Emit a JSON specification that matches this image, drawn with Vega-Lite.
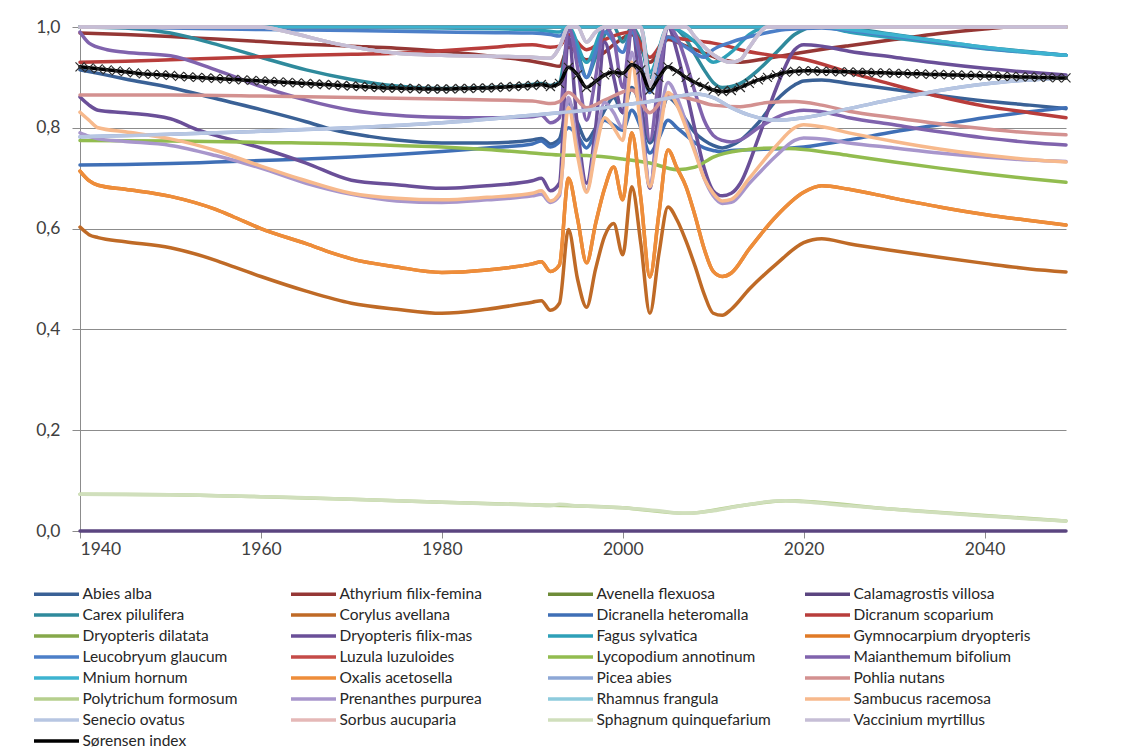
{
  "$schema": "https://vega.github.io/schema/vega-lite/v6.json",
  "width": 986,
  "height": 504,
  "autosize": {"type": "none"},
  "padding": {"left": 80, "top": 27, "right": 82, "bottom": 218},
  "background": "white",
  "config": {
    "view": {"stroke": null},
    "font": "Lato",
    "axis": {"labelFont": "Lato", "labelFontSize": 17.5, "labelColor": "#404040", "title": null, "domainColor": "#8c8c8c", "tickColor": "#8c8c8c"},
    "legend": {
      "orient": "none",
      "direction": "horizontal",
      "legendX": -48,
      "legendY": 555,
      "columns": 4,
      "gridAlign": "all",
      "padding": 0,
      "columnPadding": 24,
      "rowPadding": 0,
      "symbolType": "M-2.25,0L2.25,0",
      "symbolSize": 400,
      "symbolOffset": 12.5,
      "symbolStrokeWidth": 3.5,
      "labelOffset": 14,
      "labelFont": "Lato",
      "labelFontSize": 15.5,
      "labelColor": "#262626",
      "labelLimit": 400,
      "title": null
    }
  },
  "datasets": {
    "species": [
      {"species": "Abies alba", "year": 1940, "value": 0.915},
      {"species": "Abies alba", "year": 1942, "value": 0.908},
      {"species": "Abies alba", "year": 1945, "value": 0.897},
      {"species": "Abies alba", "year": 1950, "value": 0.88},
      {"species": "Abies alba", "year": 1955, "value": 0.858},
      {"species": "Abies alba", "year": 1960, "value": 0.836},
      {"species": "Abies alba", "year": 1965, "value": 0.812},
      {"species": "Abies alba", "year": 1968, "value": 0.796},
      {"species": "Abies alba", "year": 1972, "value": 0.783},
      {"species": "Abies alba", "year": 1975, "value": 0.776},
      {"species": "Abies alba", "year": 1980, "value": 0.77},
      {"species": "Abies alba", "year": 1985, "value": 0.77},
      {"species": "Abies alba", "year": 1990, "value": 0.776},
      {"species": "Abies alba", "year": 1991, "value": 0.779},
      {"species": "Abies alba", "year": 1992, "value": 0.768},
      {"species": "Abies alba", "year": 1993, "value": 0.778},
      {"species": "Abies alba", "year": 1994, "value": 0.85},
      {"species": "Abies alba", "year": 1995, "value": 0.81},
      {"species": "Abies alba", "year": 1996, "value": 0.775},
      {"species": "Abies alba", "year": 1997, "value": 0.8},
      {"species": "Abies alba", "year": 1998, "value": 0.835},
      {"species": "Abies alba", "year": 1999, "value": 0.86},
      {"species": "Abies alba", "year": 2000, "value": 0.83},
      {"species": "Abies alba", "year": 2001, "value": 0.88},
      {"species": "Abies alba", "year": 2002, "value": 0.84},
      {"species": "Abies alba", "year": 2003, "value": 0.77},
      {"species": "Abies alba", "year": 2004, "value": 0.81},
      {"species": "Abies alba", "year": 2005, "value": 0.86},
      {"species": "Abies alba", "year": 2006, "value": 0.845},
      {"species": "Abies alba", "year": 2007, "value": 0.815},
      {"species": "Abies alba", "year": 2008, "value": 0.79},
      {"species": "Abies alba", "year": 2009, "value": 0.775},
      {"species": "Abies alba", "year": 2010, "value": 0.765},
      {"species": "Abies alba", "year": 2011, "value": 0.76},
      {"species": "Abies alba", "year": 2012, "value": 0.765},
      {"species": "Abies alba", "year": 2013, "value": 0.775},
      {"species": "Abies alba", "year": 2015, "value": 0.81},
      {"species": "Abies alba", "year": 2017, "value": 0.855},
      {"species": "Abies alba", "year": 2019, "value": 0.885},
      {"species": "Abies alba", "year": 2020, "value": 0.893},
      {"species": "Abies alba", "year": 2022, "value": 0.895},
      {"species": "Abies alba", "year": 2025, "value": 0.888},
      {"species": "Abies alba", "year": 2030, "value": 0.876},
      {"species": "Abies alba", "year": 2035, "value": 0.864},
      {"species": "Abies alba", "year": 2040, "value": 0.853},
      {"species": "Abies alba", "year": 2045, "value": 0.845},
      {"species": "Abies alba", "year": 2049, "value": 0.838},

      {"species": "Athyrium filix-femina", "year": 1940, "value": 0.988},
      {"species": "Athyrium filix-femina", "year": 1945, "value": 0.985},
      {"species": "Athyrium filix-femina", "year": 1950, "value": 0.981},
      {"species": "Athyrium filix-femina", "year": 1955, "value": 0.976},
      {"species": "Athyrium filix-femina", "year": 1960, "value": 0.971},
      {"species": "Athyrium filix-femina", "year": 1965, "value": 0.966},
      {"species": "Athyrium filix-femina", "year": 1970, "value": 0.962},
      {"species": "Athyrium filix-femina", "year": 1975, "value": 0.958},
      {"species": "Athyrium filix-femina", "year": 1980, "value": 0.952},
      {"species": "Athyrium filix-femina", "year": 1985, "value": 0.943},
      {"species": "Athyrium filix-femina", "year": 1990, "value": 0.932},
      {"species": "Athyrium filix-femina", "year": 1992, "value": 0.925},
      {"species": "Athyrium filix-femina", "year": 1993, "value": 0.922},
      {"species": "Athyrium filix-femina", "year": 1994, "value": 0.96},
      {"species": "Athyrium filix-femina", "year": 1996, "value": 0.935},
      {"species": "Athyrium filix-femina", "year": 1998, "value": 0.95},
      {"species": "Athyrium filix-femina", "year": 1999, "value": 0.965},
      {"species": "Athyrium filix-femina", "year": 2001, "value": 0.985},
      {"species": "Athyrium filix-femina", "year": 2003, "value": 0.93},
      {"species": "Athyrium filix-femina", "year": 2005, "value": 0.975},
      {"species": "Athyrium filix-femina", "year": 2007, "value": 0.962},
      {"species": "Athyrium filix-femina", "year": 2009, "value": 0.948},
      {"species": "Athyrium filix-femina", "year": 2011, "value": 0.935},
      {"species": "Athyrium filix-femina", "year": 2013, "value": 0.93},
      {"species": "Athyrium filix-femina", "year": 2016, "value": 0.938},
      {"species": "Athyrium filix-femina", "year": 2020, "value": 0.95},
      {"species": "Athyrium filix-femina", "year": 2025, "value": 0.963},
      {"species": "Athyrium filix-femina", "year": 2030, "value": 0.975},
      {"species": "Athyrium filix-femina", "year": 2035, "value": 0.987},
      {"species": "Athyrium filix-femina", "year": 2040, "value": 0.996},
      {"species": "Athyrium filix-femina", "year": 2043, "value": 1.0},
      {"species": "Athyrium filix-femina", "year": 2049, "value": 1.0},

      {"species": "Avenella flexuosa", "year": 1940, "value": 1.0},
      {"species": "Avenella flexuosa", "year": 2049, "value": 1.0},

      {"species": "Calamagrostis villosa", "year": 1940, "value": 0.0},
      {"species": "Calamagrostis villosa", "year": 2049, "value": 0.0},

      {"species": "Carex pilulifera", "year": 1940, "value": 1.0},
      {"species": "Carex pilulifera", "year": 1945, "value": 0.998},
      {"species": "Carex pilulifera", "year": 1950, "value": 0.988},
      {"species": "Carex pilulifera", "year": 1955, "value": 0.966},
      {"species": "Carex pilulifera", "year": 1960, "value": 0.94},
      {"species": "Carex pilulifera", "year": 1965, "value": 0.915},
      {"species": "Carex pilulifera", "year": 1970, "value": 0.896},
      {"species": "Carex pilulifera", "year": 1975, "value": 0.883},
      {"species": "Carex pilulifera", "year": 1980, "value": 0.878},
      {"species": "Carex pilulifera", "year": 1985, "value": 0.88},
      {"species": "Carex pilulifera", "year": 1990, "value": 0.886},
      {"species": "Carex pilulifera", "year": 1991, "value": 0.888},
      {"species": "Carex pilulifera", "year": 1992, "value": 0.884},
      {"species": "Carex pilulifera", "year": 1993, "value": 0.89},
      {"species": "Carex pilulifera", "year": 1994, "value": 0.975},
      {"species": "Carex pilulifera", "year": 1995, "value": 0.95},
      {"species": "Carex pilulifera", "year": 1996, "value": 0.9},
      {"species": "Carex pilulifera", "year": 1997, "value": 0.94},
      {"species": "Carex pilulifera", "year": 1998, "value": 0.985},
      {"species": "Carex pilulifera", "year": 1999, "value": 1.0},
      {"species": "Carex pilulifera", "year": 2000, "value": 0.97},
      {"species": "Carex pilulifera", "year": 2001, "value": 1.0},
      {"species": "Carex pilulifera", "year": 2002, "value": 0.97},
      {"species": "Carex pilulifera", "year": 2003, "value": 0.9},
      {"species": "Carex pilulifera", "year": 2004, "value": 0.95},
      {"species": "Carex pilulifera", "year": 2005, "value": 1.0},
      {"species": "Carex pilulifera", "year": 2006, "value": 0.995},
      {"species": "Carex pilulifera", "year": 2007, "value": 0.975},
      {"species": "Carex pilulifera", "year": 2008, "value": 0.945},
      {"species": "Carex pilulifera", "year": 2009, "value": 0.915},
      {"species": "Carex pilulifera", "year": 2010, "value": 0.89},
      {"species": "Carex pilulifera", "year": 2011, "value": 0.88},
      {"species": "Carex pilulifera", "year": 2012, "value": 0.882},
      {"species": "Carex pilulifera", "year": 2013, "value": 0.888},
      {"species": "Carex pilulifera", "year": 2015, "value": 0.915},
      {"species": "Carex pilulifera", "year": 2017, "value": 0.95},
      {"species": "Carex pilulifera", "year": 2019, "value": 0.985},
      {"species": "Carex pilulifera", "year": 2020, "value": 0.995},
      {"species": "Carex pilulifera", "year": 2021, "value": 1.0},
      {"species": "Carex pilulifera", "year": 2023, "value": 1.0},
      {"species": "Carex pilulifera", "year": 2030, "value": 0.985},
      {"species": "Carex pilulifera", "year": 2035, "value": 0.972},
      {"species": "Carex pilulifera", "year": 2040, "value": 0.96},
      {"species": "Carex pilulifera", "year": 2045, "value": 0.951},
      {"species": "Carex pilulifera", "year": 2049, "value": 0.944},

      {"species": "Corylus avellana", "year": 1940, "value": 0.603},
      {"species": "Corylus avellana", "year": 1941, "value": 0.588},
      {"species": "Corylus avellana", "year": 1942, "value": 0.582},
      {"species": "Corylus avellana", "year": 1945, "value": 0.574},
      {"species": "Corylus avellana", "year": 1950, "value": 0.562},
      {"species": "Corylus avellana", "year": 1955, "value": 0.537},
      {"species": "Corylus avellana", "year": 1957, "value": 0.524},
      {"species": "Corylus avellana", "year": 1960, "value": 0.505},
      {"species": "Corylus avellana", "year": 1965, "value": 0.476},
      {"species": "Corylus avellana", "year": 1970, "value": 0.452},
      {"species": "Corylus avellana", "year": 1975, "value": 0.44},
      {"species": "Corylus avellana", "year": 1980, "value": 0.432},
      {"species": "Corylus avellana", "year": 1985, "value": 0.44},
      {"species": "Corylus avellana", "year": 1990, "value": 0.454},
      {"species": "Corylus avellana", "year": 1991, "value": 0.457},
      {"species": "Corylus avellana", "year": 1992, "value": 0.438},
      {"species": "Corylus avellana", "year": 1993, "value": 0.452},
      {"species": "Corylus avellana", "year": 1994, "value": 0.598},
      {"species": "Corylus avellana", "year": 1995, "value": 0.5},
      {"species": "Corylus avellana", "year": 1996, "value": 0.444},
      {"species": "Corylus avellana", "year": 1997, "value": 0.52},
      {"species": "Corylus avellana", "year": 1998, "value": 0.585},
      {"species": "Corylus avellana", "year": 1999, "value": 0.61},
      {"species": "Corylus avellana", "year": 2000, "value": 0.548},
      {"species": "Corylus avellana", "year": 2001, "value": 0.683},
      {"species": "Corylus avellana", "year": 2002, "value": 0.57},
      {"species": "Corylus avellana", "year": 2003, "value": 0.432},
      {"species": "Corylus avellana", "year": 2004, "value": 0.55},
      {"species": "Corylus avellana", "year": 2005, "value": 0.643},
      {"species": "Corylus avellana", "year": 2006, "value": 0.617},
      {"species": "Corylus avellana", "year": 2007, "value": 0.575},
      {"species": "Corylus avellana", "year": 2008, "value": 0.525},
      {"species": "Corylus avellana", "year": 2009, "value": 0.47},
      {"species": "Corylus avellana", "year": 2010, "value": 0.432},
      {"species": "Corylus avellana", "year": 2011, "value": 0.428},
      {"species": "Corylus avellana", "year": 2012, "value": 0.44},
      {"species": "Corylus avellana", "year": 2014, "value": 0.48},
      {"species": "Corylus avellana", "year": 2017, "value": 0.53},
      {"species": "Corylus avellana", "year": 2020, "value": 0.572},
      {"species": "Corylus avellana", "year": 2022, "value": 0.58},
      {"species": "Corylus avellana", "year": 2025, "value": 0.57},
      {"species": "Corylus avellana", "year": 2030, "value": 0.556},
      {"species": "Corylus avellana", "year": 2035, "value": 0.543},
      {"species": "Corylus avellana", "year": 2040, "value": 0.531},
      {"species": "Corylus avellana", "year": 2045, "value": 0.52},
      {"species": "Corylus avellana", "year": 2049, "value": 0.514},

      {"species": "Dicranella heteromalla", "year": 1940, "value": 0.726},
      {"species": "Dicranella heteromalla", "year": 1945, "value": 0.727},
      {"species": "Dicranella heteromalla", "year": 1950, "value": 0.729},
      {"species": "Dicranella heteromalla", "year": 1955, "value": 0.732},
      {"species": "Dicranella heteromalla", "year": 1960, "value": 0.735},
      {"species": "Dicranella heteromalla", "year": 1965, "value": 0.738},
      {"species": "Dicranella heteromalla", "year": 1970, "value": 0.742},
      {"species": "Dicranella heteromalla", "year": 1975, "value": 0.747},
      {"species": "Dicranella heteromalla", "year": 1980, "value": 0.753},
      {"species": "Dicranella heteromalla", "year": 1985, "value": 0.76},
      {"species": "Dicranella heteromalla", "year": 1990, "value": 0.768},
      {"species": "Dicranella heteromalla", "year": 1991, "value": 0.774},
      {"species": "Dicranella heteromalla", "year": 1992, "value": 0.762},
      {"species": "Dicranella heteromalla", "year": 1993, "value": 0.772},
      {"species": "Dicranella heteromalla", "year": 1994, "value": 0.8},
      {"species": "Dicranella heteromalla", "year": 1995, "value": 0.785},
      {"species": "Dicranella heteromalla", "year": 1996, "value": 0.76},
      {"species": "Dicranella heteromalla", "year": 1997, "value": 0.79},
      {"species": "Dicranella heteromalla", "year": 1998, "value": 0.815},
      {"species": "Dicranella heteromalla", "year": 1999, "value": 0.805},
      {"species": "Dicranella heteromalla", "year": 2000, "value": 0.795},
      {"species": "Dicranella heteromalla", "year": 2001, "value": 0.835},
      {"species": "Dicranella heteromalla", "year": 2002, "value": 0.8},
      {"species": "Dicranella heteromalla", "year": 2003, "value": 0.75},
      {"species": "Dicranella heteromalla", "year": 2004, "value": 0.78},
      {"species": "Dicranella heteromalla", "year": 2005, "value": 0.815},
      {"species": "Dicranella heteromalla", "year": 2006, "value": 0.8},
      {"species": "Dicranella heteromalla", "year": 2007, "value": 0.785},
      {"species": "Dicranella heteromalla", "year": 2008, "value": 0.77},
      {"species": "Dicranella heteromalla", "year": 2009, "value": 0.76},
      {"species": "Dicranella heteromalla", "year": 2010, "value": 0.755},
      {"species": "Dicranella heteromalla", "year": 2011, "value": 0.752},
      {"species": "Dicranella heteromalla", "year": 2012, "value": 0.755},
      {"species": "Dicranella heteromalla", "year": 2015, "value": 0.757},
      {"species": "Dicranella heteromalla", "year": 2020, "value": 0.762},
      {"species": "Dicranella heteromalla", "year": 2025, "value": 0.776},
      {"species": "Dicranella heteromalla", "year": 2030, "value": 0.792},
      {"species": "Dicranella heteromalla", "year": 2035, "value": 0.806},
      {"species": "Dicranella heteromalla", "year": 2040, "value": 0.82},
      {"species": "Dicranella heteromalla", "year": 2045, "value": 0.832},
      {"species": "Dicranella heteromalla", "year": 2049, "value": 0.84},

      {"species": "Dicranum scoparium", "year": 1940, "value": 0.93},
      {"species": "Dicranum scoparium", "year": 1945, "value": 0.932},
      {"species": "Dicranum scoparium", "year": 1950, "value": 0.935},
      {"species": "Dicranum scoparium", "year": 1955, "value": 0.938},
      {"species": "Dicranum scoparium", "year": 1960, "value": 0.941},
      {"species": "Dicranum scoparium", "year": 1965, "value": 0.944},
      {"species": "Dicranum scoparium", "year": 1970, "value": 0.946},
      {"species": "Dicranum scoparium", "year": 1975, "value": 0.948},
      {"species": "Dicranum scoparium", "year": 1980, "value": 0.953},
      {"species": "Dicranum scoparium", "year": 1985, "value": 0.959},
      {"species": "Dicranum scoparium", "year": 1990, "value": 0.965},
      {"species": "Dicranum scoparium", "year": 1992, "value": 0.96},
      {"species": "Dicranum scoparium", "year": 1993, "value": 0.962},
      {"species": "Dicranum scoparium", "year": 1994, "value": 0.985},
      {"species": "Dicranum scoparium", "year": 1996, "value": 0.955},
      {"species": "Dicranum scoparium", "year": 1998, "value": 0.975},
      {"species": "Dicranum scoparium", "year": 2001, "value": 0.99},
      {"species": "Dicranum scoparium", "year": 2003, "value": 0.94},
      {"species": "Dicranum scoparium", "year": 2005, "value": 0.98},
      {"species": "Dicranum scoparium", "year": 2007, "value": 0.975},
      {"species": "Dicranum scoparium", "year": 2010, "value": 0.968},
      {"species": "Dicranum scoparium", "year": 2012, "value": 0.96},
      {"species": "Dicranum scoparium", "year": 2013, "value": 0.955},
      {"species": "Dicranum scoparium", "year": 2016, "value": 0.945},
      {"species": "Dicranum scoparium", "year": 2020, "value": 0.936},
      {"species": "Dicranum scoparium", "year": 2025, "value": 0.91},
      {"species": "Dicranum scoparium", "year": 2030, "value": 0.885},
      {"species": "Dicranum scoparium", "year": 2035, "value": 0.862},
      {"species": "Dicranum scoparium", "year": 2040, "value": 0.843},
      {"species": "Dicranum scoparium", "year": 2045, "value": 0.83},
      {"species": "Dicranum scoparium", "year": 2049, "value": 0.82},

      {"species": "Dryopteris dilatata", "year": 1940, "value": 1.0},
      {"species": "Dryopteris dilatata", "year": 2049, "value": 1.0},

      {"species": "Dryopteris filix-mas", "year": 1940, "value": 0.861},
      {"species": "Dryopteris filix-mas", "year": 1941, "value": 0.845},
      {"species": "Dryopteris filix-mas", "year": 1942, "value": 0.835},
      {"species": "Dryopteris filix-mas", "year": 1945, "value": 0.83},
      {"species": "Dryopteris filix-mas", "year": 1950, "value": 0.818},
      {"species": "Dryopteris filix-mas", "year": 1953, "value": 0.796},
      {"species": "Dryopteris filix-mas", "year": 1955, "value": 0.785},
      {"species": "Dryopteris filix-mas", "year": 1960, "value": 0.76},
      {"species": "Dryopteris filix-mas", "year": 1965, "value": 0.73},
      {"species": "Dryopteris filix-mas", "year": 1970, "value": 0.696},
      {"species": "Dryopteris filix-mas", "year": 1975, "value": 0.687},
      {"species": "Dryopteris filix-mas", "year": 1980, "value": 0.68},
      {"species": "Dryopteris filix-mas", "year": 1985, "value": 0.685},
      {"species": "Dryopteris filix-mas", "year": 1990, "value": 0.695},
      {"species": "Dryopteris filix-mas", "year": 1991, "value": 0.7},
      {"species": "Dryopteris filix-mas", "year": 1992, "value": 0.675},
      {"species": "Dryopteris filix-mas", "year": 1993, "value": 0.69},
      {"species": "Dryopteris filix-mas", "year": 1994, "value": 0.98},
      {"species": "Dryopteris filix-mas", "year": 1995, "value": 0.8},
      {"species": "Dryopteris filix-mas", "year": 1996, "value": 0.69},
      {"species": "Dryopteris filix-mas", "year": 1997, "value": 0.8},
      {"species": "Dryopteris filix-mas", "year": 1998, "value": 0.97},
      {"species": "Dryopteris filix-mas", "year": 1999, "value": 0.9},
      {"species": "Dryopteris filix-mas", "year": 2000, "value": 0.83},
      {"species": "Dryopteris filix-mas", "year": 2001, "value": 1.0},
      {"species": "Dryopteris filix-mas", "year": 2002, "value": 0.85},
      {"species": "Dryopteris filix-mas", "year": 2003, "value": 0.68},
      {"species": "Dryopteris filix-mas", "year": 2004, "value": 0.85},
      {"species": "Dryopteris filix-mas", "year": 2005, "value": 1.0},
      {"species": "Dryopteris filix-mas", "year": 2006, "value": 0.95},
      {"species": "Dryopteris filix-mas", "year": 2007, "value": 0.875},
      {"species": "Dryopteris filix-mas", "year": 2008, "value": 0.795},
      {"species": "Dryopteris filix-mas", "year": 2009, "value": 0.72},
      {"species": "Dryopteris filix-mas", "year": 2010, "value": 0.675},
      {"species": "Dryopteris filix-mas", "year": 2011, "value": 0.665},
      {"species": "Dryopteris filix-mas", "year": 2012, "value": 0.67},
      {"species": "Dryopteris filix-mas", "year": 2013, "value": 0.69},
      {"species": "Dryopteris filix-mas", "year": 2015, "value": 0.78},
      {"species": "Dryopteris filix-mas", "year": 2017, "value": 0.88},
      {"species": "Dryopteris filix-mas", "year": 2019, "value": 0.955},
      {"species": "Dryopteris filix-mas", "year": 2020, "value": 0.965},
      {"species": "Dryopteris filix-mas", "year": 2022, "value": 0.962},
      {"species": "Dryopteris filix-mas", "year": 2025, "value": 0.952},
      {"species": "Dryopteris filix-mas", "year": 2030, "value": 0.94},
      {"species": "Dryopteris filix-mas", "year": 2035, "value": 0.928},
      {"species": "Dryopteris filix-mas", "year": 2040, "value": 0.918},
      {"species": "Dryopteris filix-mas", "year": 2045, "value": 0.91},
      {"species": "Dryopteris filix-mas", "year": 2049, "value": 0.905},

      {"species": "Fagus sylvatica", "year": 1940, "value": 1.0},
      {"species": "Fagus sylvatica", "year": 1960, "value": 1.0},
      {"species": "Fagus sylvatica", "year": 1980, "value": 0.998},
      {"species": "Fagus sylvatica", "year": 1990, "value": 0.995},
      {"species": "Fagus sylvatica", "year": 1993, "value": 0.99},
      {"species": "Fagus sylvatica", "year": 1994, "value": 1.0},
      {"species": "Fagus sylvatica", "year": 1996, "value": 0.93},
      {"species": "Fagus sylvatica", "year": 1998, "value": 1.0},
      {"species": "Fagus sylvatica", "year": 2002, "value": 1.0},
      {"species": "Fagus sylvatica", "year": 2003, "value": 0.91},
      {"species": "Fagus sylvatica", "year": 2005, "value": 1.0},
      {"species": "Fagus sylvatica", "year": 2008, "value": 0.97},
      {"species": "Fagus sylvatica", "year": 2010, "value": 0.93},
      {"species": "Fagus sylvatica", "year": 2012, "value": 0.95},
      {"species": "Fagus sylvatica", "year": 2014, "value": 0.985},
      {"species": "Fagus sylvatica", "year": 2016, "value": 1.0},
      {"species": "Fagus sylvatica", "year": 2022, "value": 1.0},
      {"species": "Fagus sylvatica", "year": 2025, "value": 0.99},
      {"species": "Fagus sylvatica", "year": 2030, "value": 0.978},
      {"species": "Fagus sylvatica", "year": 2035, "value": 0.967},
      {"species": "Fagus sylvatica", "year": 2040, "value": 0.957},
      {"species": "Fagus sylvatica", "year": 2045, "value": 0.949},
      {"species": "Fagus sylvatica", "year": 2049, "value": 0.944},

      {"species": "Gymnocarpium dryopteris", "year": 1940, "value": 0.714},
      {"species": "Gymnocarpium dryopteris", "year": 1941, "value": 0.695},
      {"species": "Gymnocarpium dryopteris", "year": 1942, "value": 0.686},
      {"species": "Gymnocarpium dryopteris", "year": 1945, "value": 0.678},
      {"species": "Gymnocarpium dryopteris", "year": 1950, "value": 0.664},
      {"species": "Gymnocarpium dryopteris", "year": 1955, "value": 0.638},
      {"species": "Gymnocarpium dryopteris", "year": 1957, "value": 0.623},
      {"species": "Gymnocarpium dryopteris", "year": 1960, "value": 0.6},
      {"species": "Gymnocarpium dryopteris", "year": 1965, "value": 0.57},
      {"species": "Gymnocarpium dryopteris", "year": 1968, "value": 0.551},
      {"species": "Gymnocarpium dryopteris", "year": 1970, "value": 0.54},
      {"species": "Gymnocarpium dryopteris", "year": 1975, "value": 0.524},
      {"species": "Gymnocarpium dryopteris", "year": 1980, "value": 0.513},
      {"species": "Gymnocarpium dryopteris", "year": 1985, "value": 0.518},
      {"species": "Gymnocarpium dryopteris", "year": 1990, "value": 0.53},
      {"species": "Gymnocarpium dryopteris", "year": 1991, "value": 0.534},
      {"species": "Gymnocarpium dryopteris", "year": 1992, "value": 0.515},
      {"species": "Gymnocarpium dryopteris", "year": 1993, "value": 0.528},
      {"species": "Gymnocarpium dryopteris", "year": 1994, "value": 0.7},
      {"species": "Gymnocarpium dryopteris", "year": 1995, "value": 0.62},
      {"species": "Gymnocarpium dryopteris", "year": 1996, "value": 0.532},
      {"species": "Gymnocarpium dryopteris", "year": 1997, "value": 0.61},
      {"species": "Gymnocarpium dryopteris", "year": 1998, "value": 0.68},
      {"species": "Gymnocarpium dryopteris", "year": 1999, "value": 0.722},
      {"species": "Gymnocarpium dryopteris", "year": 2000, "value": 0.657},
      {"species": "Gymnocarpium dryopteris", "year": 2001, "value": 0.79},
      {"species": "Gymnocarpium dryopteris", "year": 2002, "value": 0.66},
      {"species": "Gymnocarpium dryopteris", "year": 2003, "value": 0.504},
      {"species": "Gymnocarpium dryopteris", "year": 2004, "value": 0.63},
      {"species": "Gymnocarpium dryopteris", "year": 2005, "value": 0.756},
      {"species": "Gymnocarpium dryopteris", "year": 2006, "value": 0.72},
      {"species": "Gymnocarpium dryopteris", "year": 2007, "value": 0.683},
      {"species": "Gymnocarpium dryopteris", "year": 2008, "value": 0.625},
      {"species": "Gymnocarpium dryopteris", "year": 2009, "value": 0.56},
      {"species": "Gymnocarpium dryopteris", "year": 2010, "value": 0.515},
      {"species": "Gymnocarpium dryopteris", "year": 2011, "value": 0.505},
      {"species": "Gymnocarpium dryopteris", "year": 2012, "value": 0.512},
      {"species": "Gymnocarpium dryopteris", "year": 2014, "value": 0.56},
      {"species": "Gymnocarpium dryopteris", "year": 2017, "value": 0.625},
      {"species": "Gymnocarpium dryopteris", "year": 2020, "value": 0.672},
      {"species": "Gymnocarpium dryopteris", "year": 2022, "value": 0.685},
      {"species": "Gymnocarpium dryopteris", "year": 2025, "value": 0.678},
      {"species": "Gymnocarpium dryopteris", "year": 2030, "value": 0.66},
      {"species": "Gymnocarpium dryopteris", "year": 2035, "value": 0.643},
      {"species": "Gymnocarpium dryopteris", "year": 2040, "value": 0.628},
      {"species": "Gymnocarpium dryopteris", "year": 2045, "value": 0.616},
      {"species": "Gymnocarpium dryopteris", "year": 2049, "value": 0.607},

      {"species": "Leucobryum glaucum", "year": 1940, "value": 1.0},
      {"species": "Leucobryum glaucum", "year": 1950, "value": 0.998},
      {"species": "Leucobryum glaucum", "year": 1960, "value": 0.995},
      {"species": "Leucobryum glaucum", "year": 1970, "value": 0.993},
      {"species": "Leucobryum glaucum", "year": 1980, "value": 0.99},
      {"species": "Leucobryum glaucum", "year": 1990, "value": 0.988},
      {"species": "Leucobryum glaucum", "year": 1992, "value": 0.985},
      {"species": "Leucobryum glaucum", "year": 1993, "value": 0.982},
      {"species": "Leucobryum glaucum", "year": 1994, "value": 0.995},
      {"species": "Leucobryum glaucum", "year": 1996, "value": 0.9},
      {"species": "Leucobryum glaucum", "year": 1997, "value": 0.95},
      {"species": "Leucobryum glaucum", "year": 1998, "value": 0.99},
      {"species": "Leucobryum glaucum", "year": 2000, "value": 0.95},
      {"species": "Leucobryum glaucum", "year": 2001, "value": 0.99},
      {"species": "Leucobryum glaucum", "year": 2003, "value": 0.87},
      {"species": "Leucobryum glaucum", "year": 2005, "value": 0.98},
      {"species": "Leucobryum glaucum", "year": 2007, "value": 0.96},
      {"species": "Leucobryum glaucum", "year": 2009, "value": 0.94},
      {"species": "Leucobryum glaucum", "year": 2010, "value": 0.955},
      {"species": "Leucobryum glaucum", "year": 2012, "value": 0.97},
      {"species": "Leucobryum glaucum", "year": 2015, "value": 0.985},
      {"species": "Leucobryum glaucum", "year": 2018, "value": 0.995},
      {"species": "Leucobryum glaucum", "year": 2022, "value": 0.998},
      {"species": "Leucobryum glaucum", "year": 2025, "value": 0.993},
      {"species": "Leucobryum glaucum", "year": 2030, "value": 0.982},
      {"species": "Leucobryum glaucum", "year": 2035, "value": 0.97},
      {"species": "Leucobryum glaucum", "year": 2040, "value": 0.958},
      {"species": "Leucobryum glaucum", "year": 2045, "value": 0.95},
      {"species": "Leucobryum glaucum", "year": 2049, "value": 0.944},

      {"species": "Luzula luzuloides", "year": 1940, "value": 1.0},
      {"species": "Luzula luzuloides", "year": 2049, "value": 1.0},

      {"species": "Lycopodium annotinum", "year": 1940, "value": 0.775},
      {"species": "Lycopodium annotinum", "year": 1950, "value": 0.774},
      {"species": "Lycopodium annotinum", "year": 1960, "value": 0.771},
      {"species": "Lycopodium annotinum", "year": 1970, "value": 0.768},
      {"species": "Lycopodium annotinum", "year": 1975, "value": 0.765},
      {"species": "Lycopodium annotinum", "year": 1980, "value": 0.762},
      {"species": "Lycopodium annotinum", "year": 1985, "value": 0.757},
      {"species": "Lycopodium annotinum", "year": 1990, "value": 0.75},
      {"species": "Lycopodium annotinum", "year": 1993, "value": 0.746},
      {"species": "Lycopodium annotinum", "year": 1996, "value": 0.745},
      {"species": "Lycopodium annotinum", "year": 2000, "value": 0.738},
      {"species": "Lycopodium annotinum", "year": 2003, "value": 0.73},
      {"species": "Lycopodium annotinum", "year": 2006, "value": 0.717},
      {"species": "Lycopodium annotinum", "year": 2008, "value": 0.722},
      {"species": "Lycopodium annotinum", "year": 2010, "value": 0.742},
      {"species": "Lycopodium annotinum", "year": 2013, "value": 0.755},
      {"species": "Lycopodium annotinum", "year": 2017, "value": 0.76},
      {"species": "Lycopodium annotinum", "year": 2020, "value": 0.757},
      {"species": "Lycopodium annotinum", "year": 2025, "value": 0.745},
      {"species": "Lycopodium annotinum", "year": 2030, "value": 0.732},
      {"species": "Lycopodium annotinum", "year": 2035, "value": 0.72},
      {"species": "Lycopodium annotinum", "year": 2040, "value": 0.709},
      {"species": "Lycopodium annotinum", "year": 2045, "value": 0.699},
      {"species": "Lycopodium annotinum", "year": 2049, "value": 0.692},

      {"species": "Maianthemum bifolium", "year": 1940, "value": 0.99},
      {"species": "Maianthemum bifolium", "year": 1941, "value": 0.968},
      {"species": "Maianthemum bifolium", "year": 1943, "value": 0.955},
      {"species": "Maianthemum bifolium", "year": 1945, "value": 0.95},
      {"species": "Maianthemum bifolium", "year": 1950, "value": 0.943},
      {"species": "Maianthemum bifolium", "year": 1955, "value": 0.915},
      {"species": "Maianthemum bifolium", "year": 1960, "value": 0.882},
      {"species": "Maianthemum bifolium", "year": 1965, "value": 0.855},
      {"species": "Maianthemum bifolium", "year": 1970, "value": 0.835},
      {"species": "Maianthemum bifolium", "year": 1975, "value": 0.825},
      {"species": "Maianthemum bifolium", "year": 1980, "value": 0.821},
      {"species": "Maianthemum bifolium", "year": 1985, "value": 0.82},
      {"species": "Maianthemum bifolium", "year": 1990, "value": 0.822},
      {"species": "Maianthemum bifolium", "year": 1991, "value": 0.825},
      {"species": "Maianthemum bifolium", "year": 1992, "value": 0.81},
      {"species": "Maianthemum bifolium", "year": 1993, "value": 0.82},
      {"species": "Maianthemum bifolium", "year": 1994, "value": 1.0},
      {"species": "Maianthemum bifolium", "year": 1995, "value": 0.92},
      {"species": "Maianthemum bifolium", "year": 1996, "value": 0.815},
      {"species": "Maianthemum bifolium", "year": 1997, "value": 0.9},
      {"species": "Maianthemum bifolium", "year": 1998, "value": 1.0},
      {"species": "Maianthemum bifolium", "year": 1999, "value": 0.975},
      {"species": "Maianthemum bifolium", "year": 2000, "value": 0.88},
      {"species": "Maianthemum bifolium", "year": 2001, "value": 1.0},
      {"species": "Maianthemum bifolium", "year": 2002, "value": 0.93},
      {"species": "Maianthemum bifolium", "year": 2003, "value": 0.775},
      {"species": "Maianthemum bifolium", "year": 2004, "value": 0.9},
      {"species": "Maianthemum bifolium", "year": 2005, "value": 1.0},
      {"species": "Maianthemum bifolium", "year": 2006, "value": 0.98},
      {"species": "Maianthemum bifolium", "year": 2007, "value": 0.93},
      {"species": "Maianthemum bifolium", "year": 2008, "value": 0.87},
      {"species": "Maianthemum bifolium", "year": 2009, "value": 0.815},
      {"species": "Maianthemum bifolium", "year": 2010, "value": 0.785},
      {"species": "Maianthemum bifolium", "year": 2011, "value": 0.775},
      {"species": "Maianthemum bifolium", "year": 2012, "value": 0.772},
      {"species": "Maianthemum bifolium", "year": 2013, "value": 0.776},
      {"species": "Maianthemum bifolium", "year": 2015, "value": 0.8},
      {"species": "Maianthemum bifolium", "year": 2018, "value": 0.828},
      {"species": "Maianthemum bifolium", "year": 2020, "value": 0.835},
      {"species": "Maianthemum bifolium", "year": 2022, "value": 0.832},
      {"species": "Maianthemum bifolium", "year": 2025, "value": 0.82},
      {"species": "Maianthemum bifolium", "year": 2030, "value": 0.806},
      {"species": "Maianthemum bifolium", "year": 2035, "value": 0.792},
      {"species": "Maianthemum bifolium", "year": 2040, "value": 0.78},
      {"species": "Maianthemum bifolium", "year": 2045, "value": 0.771},
      {"species": "Maianthemum bifolium", "year": 2049, "value": 0.766},

      {"species": "Mnium hornum", "year": 1940, "value": 1.0},
      {"species": "Mnium hornum", "year": 2022, "value": 1.0},
      {"species": "Mnium hornum", "year": 2026, "value": 0.993},
      {"species": "Mnium hornum", "year": 2030, "value": 0.984},
      {"species": "Mnium hornum", "year": 2035, "value": 0.972},
      {"species": "Mnium hornum", "year": 2040, "value": 0.96},
      {"species": "Mnium hornum", "year": 2045, "value": 0.95},
      {"species": "Mnium hornum", "year": 2049, "value": 0.944},

      {"species": "Oxalis acetosella", "year": 1940, "value": 0.714},
      {"species": "Oxalis acetosella", "year": 1941, "value": 0.695},
      {"species": "Oxalis acetosella", "year": 1942, "value": 0.686},
      {"species": "Oxalis acetosella", "year": 1945, "value": 0.678},
      {"species": "Oxalis acetosella", "year": 1950, "value": 0.664},
      {"species": "Oxalis acetosella", "year": 1955, "value": 0.638},
      {"species": "Oxalis acetosella", "year": 1957, "value": 0.623},
      {"species": "Oxalis acetosella", "year": 1960, "value": 0.6},
      {"species": "Oxalis acetosella", "year": 1965, "value": 0.57},
      {"species": "Oxalis acetosella", "year": 1968, "value": 0.551},
      {"species": "Oxalis acetosella", "year": 1970, "value": 0.54},
      {"species": "Oxalis acetosella", "year": 1975, "value": 0.524},
      {"species": "Oxalis acetosella", "year": 1980, "value": 0.513},
      {"species": "Oxalis acetosella", "year": 1985, "value": 0.518},
      {"species": "Oxalis acetosella", "year": 1990, "value": 0.53},
      {"species": "Oxalis acetosella", "year": 1991, "value": 0.534},
      {"species": "Oxalis acetosella", "year": 1992, "value": 0.515},
      {"species": "Oxalis acetosella", "year": 1993, "value": 0.528},
      {"species": "Oxalis acetosella", "year": 1994, "value": 0.7},
      {"species": "Oxalis acetosella", "year": 1995, "value": 0.62},
      {"species": "Oxalis acetosella", "year": 1996, "value": 0.532},
      {"species": "Oxalis acetosella", "year": 1997, "value": 0.61},
      {"species": "Oxalis acetosella", "year": 1998, "value": 0.68},
      {"species": "Oxalis acetosella", "year": 1999, "value": 0.722},
      {"species": "Oxalis acetosella", "year": 2000, "value": 0.657},
      {"species": "Oxalis acetosella", "year": 2001, "value": 0.79},
      {"species": "Oxalis acetosella", "year": 2002, "value": 0.66},
      {"species": "Oxalis acetosella", "year": 2003, "value": 0.504},
      {"species": "Oxalis acetosella", "year": 2004, "value": 0.63},
      {"species": "Oxalis acetosella", "year": 2005, "value": 0.756},
      {"species": "Oxalis acetosella", "year": 2006, "value": 0.72},
      {"species": "Oxalis acetosella", "year": 2007, "value": 0.683},
      {"species": "Oxalis acetosella", "year": 2008, "value": 0.625},
      {"species": "Oxalis acetosella", "year": 2009, "value": 0.56},
      {"species": "Oxalis acetosella", "year": 2010, "value": 0.515},
      {"species": "Oxalis acetosella", "year": 2011, "value": 0.505},
      {"species": "Oxalis acetosella", "year": 2012, "value": 0.512},
      {"species": "Oxalis acetosella", "year": 2014, "value": 0.56},
      {"species": "Oxalis acetosella", "year": 2017, "value": 0.625},
      {"species": "Oxalis acetosella", "year": 2020, "value": 0.672},
      {"species": "Oxalis acetosella", "year": 2022, "value": 0.685},
      {"species": "Oxalis acetosella", "year": 2025, "value": 0.678},
      {"species": "Oxalis acetosella", "year": 2030, "value": 0.66},
      {"species": "Oxalis acetosella", "year": 2035, "value": 0.643},
      {"species": "Oxalis acetosella", "year": 2040, "value": 0.628},
      {"species": "Oxalis acetosella", "year": 2045, "value": 0.616},
      {"species": "Oxalis acetosella", "year": 2049, "value": 0.607},

      {"species": "Picea abies", "year": 1940, "value": 0.782},
      {"species": "Picea abies", "year": 1950, "value": 0.787},
      {"species": "Picea abies", "year": 1960, "value": 0.793},
      {"species": "Picea abies", "year": 1970, "value": 0.8},
      {"species": "Picea abies", "year": 1980, "value": 0.81},
      {"species": "Picea abies", "year": 1990, "value": 0.825},
      {"species": "Picea abies", "year": 1993, "value": 0.83},
      {"species": "Picea abies", "year": 1996, "value": 0.835},
      {"species": "Picea abies", "year": 2000, "value": 0.845},
      {"species": "Picea abies", "year": 2003, "value": 0.852},
      {"species": "Picea abies", "year": 2006, "value": 0.862},
      {"species": "Picea abies", "year": 2008, "value": 0.867},
      {"species": "Picea abies", "year": 2010, "value": 0.86},
      {"species": "Picea abies", "year": 2012, "value": 0.84},
      {"species": "Picea abies", "year": 2014, "value": 0.825},
      {"species": "Picea abies", "year": 2017, "value": 0.815},
      {"species": "Picea abies", "year": 2020, "value": 0.82},
      {"species": "Picea abies", "year": 2025, "value": 0.838},
      {"species": "Picea abies", "year": 2030, "value": 0.857},
      {"species": "Picea abies", "year": 2035, "value": 0.874},
      {"species": "Picea abies", "year": 2040, "value": 0.887},
      {"species": "Picea abies", "year": 2045, "value": 0.895},
      {"species": "Picea abies", "year": 2049, "value": 0.9},

      {"species": "Pohlia nutans", "year": 1940, "value": 0.865},
      {"species": "Pohlia nutans", "year": 1950, "value": 0.865},
      {"species": "Pohlia nutans", "year": 1960, "value": 0.863},
      {"species": "Pohlia nutans", "year": 1970, "value": 0.86},
      {"species": "Pohlia nutans", "year": 1980, "value": 0.857},
      {"species": "Pohlia nutans", "year": 1990, "value": 0.853},
      {"species": "Pohlia nutans", "year": 1992, "value": 0.848},
      {"species": "Pohlia nutans", "year": 1993, "value": 0.852},
      {"species": "Pohlia nutans", "year": 1994, "value": 0.87},
      {"species": "Pohlia nutans", "year": 1996, "value": 0.84},
      {"species": "Pohlia nutans", "year": 1998, "value": 0.855},
      {"species": "Pohlia nutans", "year": 2001, "value": 0.875},
      {"species": "Pohlia nutans", "year": 2003, "value": 0.83},
      {"species": "Pohlia nutans", "year": 2005, "value": 0.865},
      {"species": "Pohlia nutans", "year": 2008, "value": 0.855},
      {"species": "Pohlia nutans", "year": 2010, "value": 0.845},
      {"species": "Pohlia nutans", "year": 2013, "value": 0.842},
      {"species": "Pohlia nutans", "year": 2016, "value": 0.85},
      {"species": "Pohlia nutans", "year": 2019, "value": 0.852},
      {"species": "Pohlia nutans", "year": 2022, "value": 0.845},
      {"species": "Pohlia nutans", "year": 2025, "value": 0.833},
      {"species": "Pohlia nutans", "year": 2030, "value": 0.82},
      {"species": "Pohlia nutans", "year": 2035, "value": 0.808},
      {"species": "Pohlia nutans", "year": 2040, "value": 0.798},
      {"species": "Pohlia nutans", "year": 2045, "value": 0.79},
      {"species": "Pohlia nutans", "year": 2049, "value": 0.786},

      {"species": "Polytrichum formosum", "year": 1940, "value": 0.073},
      {"species": "Polytrichum formosum", "year": 1950, "value": 0.072},
      {"species": "Polytrichum formosum", "year": 1960, "value": 0.068},
      {"species": "Polytrichum formosum", "year": 1970, "value": 0.063},
      {"species": "Polytrichum formosum", "year": 1980, "value": 0.057},
      {"species": "Polytrichum formosum", "year": 1990, "value": 0.052},
      {"species": "Polytrichum formosum", "year": 2000, "value": 0.046},
      {"species": "Polytrichum formosum", "year": 2007, "value": 0.035},
      {"species": "Polytrichum formosum", "year": 2013, "value": 0.05},
      {"species": "Polytrichum formosum", "year": 2018, "value": 0.06},
      {"species": "Polytrichum formosum", "year": 2030, "value": 0.043},
      {"species": "Polytrichum formosum", "year": 2049, "value": 0.02},

      {"species": "Prenanthes purpurea", "year": 1940, "value": 0.79},
      {"species": "Prenanthes purpurea", "year": 1941, "value": 0.783},
      {"species": "Prenanthes purpurea", "year": 1942, "value": 0.778},
      {"species": "Prenanthes purpurea", "year": 1945, "value": 0.773},
      {"species": "Prenanthes purpurea", "year": 1950, "value": 0.765},
      {"species": "Prenanthes purpurea", "year": 1955, "value": 0.745},
      {"species": "Prenanthes purpurea", "year": 1960, "value": 0.72},
      {"species": "Prenanthes purpurea", "year": 1965, "value": 0.69},
      {"species": "Prenanthes purpurea", "year": 1970, "value": 0.668},
      {"species": "Prenanthes purpurea", "year": 1975, "value": 0.655},
      {"species": "Prenanthes purpurea", "year": 1980, "value": 0.652},
      {"species": "Prenanthes purpurea", "year": 1985, "value": 0.657},
      {"species": "Prenanthes purpurea", "year": 1990, "value": 0.665},
      {"species": "Prenanthes purpurea", "year": 1991, "value": 0.668},
      {"species": "Prenanthes purpurea", "year": 1992, "value": 0.652},
      {"species": "Prenanthes purpurea", "year": 1993, "value": 0.665},
      {"species": "Prenanthes purpurea", "year": 1994, "value": 0.86},
      {"species": "Prenanthes purpurea", "year": 1995, "value": 0.76},
      {"species": "Prenanthes purpurea", "year": 1996, "value": 0.675},
      {"species": "Prenanthes purpurea", "year": 1997, "value": 0.77},
      {"species": "Prenanthes purpurea", "year": 1998, "value": 0.85},
      {"species": "Prenanthes purpurea", "year": 1999, "value": 0.83},
      {"species": "Prenanthes purpurea", "year": 2000, "value": 0.8},
      {"species": "Prenanthes purpurea", "year": 2001, "value": 0.95},
      {"species": "Prenanthes purpurea", "year": 2002, "value": 0.82},
      {"species": "Prenanthes purpurea", "year": 2003, "value": 0.69},
      {"species": "Prenanthes purpurea", "year": 2004, "value": 0.8},
      {"species": "Prenanthes purpurea", "year": 2005, "value": 0.89},
      {"species": "Prenanthes purpurea", "year": 2006, "value": 0.86},
      {"species": "Prenanthes purpurea", "year": 2007, "value": 0.81},
      {"species": "Prenanthes purpurea", "year": 2008, "value": 0.755},
      {"species": "Prenanthes purpurea", "year": 2009, "value": 0.7},
      {"species": "Prenanthes purpurea", "year": 2010, "value": 0.665},
      {"species": "Prenanthes purpurea", "year": 2011, "value": 0.65},
      {"species": "Prenanthes purpurea", "year": 2012, "value": 0.652},
      {"species": "Prenanthes purpurea", "year": 2014, "value": 0.69},
      {"species": "Prenanthes purpurea", "year": 2017, "value": 0.745},
      {"species": "Prenanthes purpurea", "year": 2019, "value": 0.775},
      {"species": "Prenanthes purpurea", "year": 2020, "value": 0.78},
      {"species": "Prenanthes purpurea", "year": 2022, "value": 0.778},
      {"species": "Prenanthes purpurea", "year": 2025, "value": 0.77},
      {"species": "Prenanthes purpurea", "year": 2030, "value": 0.76},
      {"species": "Prenanthes purpurea", "year": 2035, "value": 0.75},
      {"species": "Prenanthes purpurea", "year": 2040, "value": 0.742},
      {"species": "Prenanthes purpurea", "year": 2045, "value": 0.736},
      {"species": "Prenanthes purpurea", "year": 2049, "value": 0.733},

      {"species": "Rhamnus frangula", "year": 1940, "value": 1.0},
      {"species": "Rhamnus frangula", "year": 1960, "value": 1.0},
      {"species": "Rhamnus frangula", "year": 1963, "value": 0.99},
      {"species": "Rhamnus frangula", "year": 1968, "value": 0.968},
      {"species": "Rhamnus frangula", "year": 1975, "value": 0.948},
      {"species": "Rhamnus frangula", "year": 1980, "value": 0.944},
      {"species": "Rhamnus frangula", "year": 1985, "value": 0.942},
      {"species": "Rhamnus frangula", "year": 1990, "value": 0.94},
      {"species": "Rhamnus frangula", "year": 1992, "value": 0.938},
      {"species": "Rhamnus frangula", "year": 1993, "value": 0.96},
      {"species": "Rhamnus frangula", "year": 1994, "value": 1.0},
      {"species": "Rhamnus frangula", "year": 1995, "value": 1.0},
      {"species": "Rhamnus frangula", "year": 1996, "value": 0.97},
      {"species": "Rhamnus frangula", "year": 1997, "value": 0.99},
      {"species": "Rhamnus frangula", "year": 1998, "value": 1.0},
      {"species": "Rhamnus frangula", "year": 2002, "value": 1.0},
      {"species": "Rhamnus frangula", "year": 2003, "value": 0.885},
      {"species": "Rhamnus frangula", "year": 2004, "value": 0.95},
      {"species": "Rhamnus frangula", "year": 2005, "value": 1.0},
      {"species": "Rhamnus frangula", "year": 2007, "value": 1.0},
      {"species": "Rhamnus frangula", "year": 2008, "value": 0.98},
      {"species": "Rhamnus frangula", "year": 2010, "value": 0.945},
      {"species": "Rhamnus frangula", "year": 2012, "value": 0.93},
      {"species": "Rhamnus frangula", "year": 2013, "value": 0.935},
      {"species": "Rhamnus frangula", "year": 2014, "value": 0.96},
      {"species": "Rhamnus frangula", "year": 2016, "value": 1.0},
      {"species": "Rhamnus frangula", "year": 2049, "value": 1.0},

      {"species": "Sambucus racemosa", "year": 1940, "value": 0.831},
      {"species": "Sambucus racemosa", "year": 1941, "value": 0.815},
      {"species": "Sambucus racemosa", "year": 1942, "value": 0.8},
      {"species": "Sambucus racemosa", "year": 1945, "value": 0.792},
      {"species": "Sambucus racemosa", "year": 1950, "value": 0.778},
      {"species": "Sambucus racemosa", "year": 1955, "value": 0.755},
      {"species": "Sambucus racemosa", "year": 1960, "value": 0.724},
      {"species": "Sambucus racemosa", "year": 1965, "value": 0.695},
      {"species": "Sambucus racemosa", "year": 1970, "value": 0.67},
      {"species": "Sambucus racemosa", "year": 1975, "value": 0.66},
      {"species": "Sambucus racemosa", "year": 1980, "value": 0.657},
      {"species": "Sambucus racemosa", "year": 1985, "value": 0.662},
      {"species": "Sambucus racemosa", "year": 1990, "value": 0.67},
      {"species": "Sambucus racemosa", "year": 1991, "value": 0.675},
      {"species": "Sambucus racemosa", "year": 1992, "value": 0.655},
      {"species": "Sambucus racemosa", "year": 1993, "value": 0.67},
      {"species": "Sambucus racemosa", "year": 1994, "value": 0.84},
      {"species": "Sambucus racemosa", "year": 1995, "value": 0.745},
      {"species": "Sambucus racemosa", "year": 1996, "value": 0.672},
      {"species": "Sambucus racemosa", "year": 1997, "value": 0.755},
      {"species": "Sambucus racemosa", "year": 1998, "value": 0.82},
      {"species": "Sambucus racemosa", "year": 1999, "value": 0.8},
      {"species": "Sambucus racemosa", "year": 2000, "value": 0.775},
      {"species": "Sambucus racemosa", "year": 2001, "value": 0.93},
      {"species": "Sambucus racemosa", "year": 2002, "value": 0.8},
      {"species": "Sambucus racemosa", "year": 2003, "value": 0.683},
      {"species": "Sambucus racemosa", "year": 2004, "value": 0.78},
      {"species": "Sambucus racemosa", "year": 2005, "value": 0.87},
      {"species": "Sambucus racemosa", "year": 2006, "value": 0.845},
      {"species": "Sambucus racemosa", "year": 2007, "value": 0.8},
      {"species": "Sambucus racemosa", "year": 2008, "value": 0.75},
      {"species": "Sambucus racemosa", "year": 2009, "value": 0.7},
      {"species": "Sambucus racemosa", "year": 2010, "value": 0.67},
      {"species": "Sambucus racemosa", "year": 2011, "value": 0.655},
      {"species": "Sambucus racemosa", "year": 2012, "value": 0.658},
      {"species": "Sambucus racemosa", "year": 2014, "value": 0.7},
      {"species": "Sambucus racemosa", "year": 2017, "value": 0.765},
      {"species": "Sambucus racemosa", "year": 2019, "value": 0.8},
      {"species": "Sambucus racemosa", "year": 2020, "value": 0.806},
      {"species": "Sambucus racemosa", "year": 2022, "value": 0.802},
      {"species": "Sambucus racemosa", "year": 2025, "value": 0.79},
      {"species": "Sambucus racemosa", "year": 2030, "value": 0.773},
      {"species": "Sambucus racemosa", "year": 2035, "value": 0.758},
      {"species": "Sambucus racemosa", "year": 2040, "value": 0.746},
      {"species": "Sambucus racemosa", "year": 2045, "value": 0.737},
      {"species": "Sambucus racemosa", "year": 2049, "value": 0.732},

      {"species": "Senecio ovatus", "year": 1940, "value": 0.782},
      {"species": "Senecio ovatus", "year": 1945, "value": 0.784},
      {"species": "Senecio ovatus", "year": 1950, "value": 0.787},
      {"species": "Senecio ovatus", "year": 1955, "value": 0.79},
      {"species": "Senecio ovatus", "year": 1960, "value": 0.793},
      {"species": "Senecio ovatus", "year": 1965, "value": 0.797},
      {"species": "Senecio ovatus", "year": 1970, "value": 0.8},
      {"species": "Senecio ovatus", "year": 1975, "value": 0.805},
      {"species": "Senecio ovatus", "year": 1980, "value": 0.81},
      {"species": "Senecio ovatus", "year": 1985, "value": 0.817},
      {"species": "Senecio ovatus", "year": 1990, "value": 0.825},
      {"species": "Senecio ovatus", "year": 1993, "value": 0.83},
      {"species": "Senecio ovatus", "year": 1996, "value": 0.835},
      {"species": "Senecio ovatus", "year": 2000, "value": 0.845},
      {"species": "Senecio ovatus", "year": 2003, "value": 0.852},
      {"species": "Senecio ovatus", "year": 2006, "value": 0.862},
      {"species": "Senecio ovatus", "year": 2008, "value": 0.867},
      {"species": "Senecio ovatus", "year": 2010, "value": 0.86},
      {"species": "Senecio ovatus", "year": 2012, "value": 0.84},
      {"species": "Senecio ovatus", "year": 2014, "value": 0.825},
      {"species": "Senecio ovatus", "year": 2017, "value": 0.815},
      {"species": "Senecio ovatus", "year": 2020, "value": 0.82},
      {"species": "Senecio ovatus", "year": 2025, "value": 0.838},
      {"species": "Senecio ovatus", "year": 2030, "value": 0.857},
      {"species": "Senecio ovatus", "year": 2035, "value": 0.874},
      {"species": "Senecio ovatus", "year": 2040, "value": 0.887},
      {"species": "Senecio ovatus", "year": 2045, "value": 0.895},
      {"species": "Senecio ovatus", "year": 2049, "value": 0.9},

      {"species": "Sorbus aucuparia", "year": 1940, "value": 1.0},
      {"species": "Sorbus aucuparia", "year": 1960, "value": 1.0},
      {"species": "Sorbus aucuparia", "year": 1963, "value": 0.99},
      {"species": "Sorbus aucuparia", "year": 1968, "value": 0.968},
      {"species": "Sorbus aucuparia", "year": 1975, "value": 0.948},
      {"species": "Sorbus aucuparia", "year": 1980, "value": 0.944},
      {"species": "Sorbus aucuparia", "year": 1985, "value": 0.942},
      {"species": "Sorbus aucuparia", "year": 1990, "value": 0.94},
      {"species": "Sorbus aucuparia", "year": 1992, "value": 0.938},
      {"species": "Sorbus aucuparia", "year": 1993, "value": 0.96},
      {"species": "Sorbus aucuparia", "year": 1994, "value": 1.0},
      {"species": "Sorbus aucuparia", "year": 1995, "value": 1.0},
      {"species": "Sorbus aucuparia", "year": 1996, "value": 0.97},
      {"species": "Sorbus aucuparia", "year": 1997, "value": 0.99},
      {"species": "Sorbus aucuparia", "year": 1998, "value": 1.0},
      {"species": "Sorbus aucuparia", "year": 2002, "value": 1.0},
      {"species": "Sorbus aucuparia", "year": 2003, "value": 0.885},
      {"species": "Sorbus aucuparia", "year": 2004, "value": 0.95},
      {"species": "Sorbus aucuparia", "year": 2005, "value": 1.0},
      {"species": "Sorbus aucuparia", "year": 2007, "value": 1.0},
      {"species": "Sorbus aucuparia", "year": 2008, "value": 0.98},
      {"species": "Sorbus aucuparia", "year": 2010, "value": 0.945},
      {"species": "Sorbus aucuparia", "year": 2012, "value": 0.93},
      {"species": "Sorbus aucuparia", "year": 2013, "value": 0.935},
      {"species": "Sorbus aucuparia", "year": 2014, "value": 0.96},
      {"species": "Sorbus aucuparia", "year": 2016, "value": 1.0},
      {"species": "Sorbus aucuparia", "year": 2049, "value": 1.0},

      {"species": "Sphagnum quinquefarium", "year": 1940, "value": 0.073},
      {"species": "Sphagnum quinquefarium", "year": 1945, "value": 0.073},
      {"species": "Sphagnum quinquefarium", "year": 1950, "value": 0.072},
      {"species": "Sphagnum quinquefarium", "year": 1955, "value": 0.07},
      {"species": "Sphagnum quinquefarium", "year": 1960, "value": 0.068},
      {"species": "Sphagnum quinquefarium", "year": 1965, "value": 0.066},
      {"species": "Sphagnum quinquefarium", "year": 1970, "value": 0.063},
      {"species": "Sphagnum quinquefarium", "year": 1975, "value": 0.06},
      {"species": "Sphagnum quinquefarium", "year": 1980, "value": 0.057},
      {"species": "Sphagnum quinquefarium", "year": 1985, "value": 0.054},
      {"species": "Sphagnum quinquefarium", "year": 1990, "value": 0.052},
      {"species": "Sphagnum quinquefarium", "year": 1992, "value": 0.05},
      {"species": "Sphagnum quinquefarium", "year": 1993, "value": 0.053},
      {"species": "Sphagnum quinquefarium", "year": 1995, "value": 0.05},
      {"species": "Sphagnum quinquefarium", "year": 2000, "value": 0.046},
      {"species": "Sphagnum quinquefarium", "year": 2004, "value": 0.04},
      {"species": "Sphagnum quinquefarium", "year": 2007, "value": 0.035},
      {"species": "Sphagnum quinquefarium", "year": 2010, "value": 0.04},
      {"species": "Sphagnum quinquefarium", "year": 2013, "value": 0.05},
      {"species": "Sphagnum quinquefarium", "year": 2016, "value": 0.058},
      {"species": "Sphagnum quinquefarium", "year": 2018, "value": 0.06},
      {"species": "Sphagnum quinquefarium", "year": 2020, "value": 0.058},
      {"species": "Sphagnum quinquefarium", "year": 2025, "value": 0.05},
      {"species": "Sphagnum quinquefarium", "year": 2030, "value": 0.043},
      {"species": "Sphagnum quinquefarium", "year": 2035, "value": 0.036},
      {"species": "Sphagnum quinquefarium", "year": 2040, "value": 0.03},
      {"species": "Sphagnum quinquefarium", "year": 2045, "value": 0.024},
      {"species": "Sphagnum quinquefarium", "year": 2049, "value": 0.02},

      {"species": "Vaccinium myrtillus", "year": 1940, "value": 1.0},
      {"species": "Vaccinium myrtillus", "year": 1960, "value": 1.0},
      {"species": "Vaccinium myrtillus", "year": 1963, "value": 0.99},
      {"species": "Vaccinium myrtillus", "year": 1968, "value": 0.968},
      {"species": "Vaccinium myrtillus", "year": 1975, "value": 0.948},
      {"species": "Vaccinium myrtillus", "year": 1980, "value": 0.944},
      {"species": "Vaccinium myrtillus", "year": 1985, "value": 0.942},
      {"species": "Vaccinium myrtillus", "year": 1990, "value": 0.94},
      {"species": "Vaccinium myrtillus", "year": 1992, "value": 0.938},
      {"species": "Vaccinium myrtillus", "year": 1993, "value": 0.96},
      {"species": "Vaccinium myrtillus", "year": 1994, "value": 1.0},
      {"species": "Vaccinium myrtillus", "year": 1995, "value": 1.0},
      {"species": "Vaccinium myrtillus", "year": 1996, "value": 0.97},
      {"species": "Vaccinium myrtillus", "year": 1997, "value": 0.99},
      {"species": "Vaccinium myrtillus", "year": 1998, "value": 1.0},
      {"species": "Vaccinium myrtillus", "year": 2002, "value": 1.0},
      {"species": "Vaccinium myrtillus", "year": 2003, "value": 0.885},
      {"species": "Vaccinium myrtillus", "year": 2004, "value": 0.95},
      {"species": "Vaccinium myrtillus", "year": 2005, "value": 1.0},
      {"species": "Vaccinium myrtillus", "year": 2007, "value": 1.0},
      {"species": "Vaccinium myrtillus", "year": 2008, "value": 0.98},
      {"species": "Vaccinium myrtillus", "year": 2010, "value": 0.945},
      {"species": "Vaccinium myrtillus", "year": 2012, "value": 0.93},
      {"species": "Vaccinium myrtillus", "year": 2013, "value": 0.935},
      {"species": "Vaccinium myrtillus", "year": 2014, "value": 0.96},
      {"species": "Vaccinium myrtillus", "year": 2016, "value": 1.0},
      {"species": "Vaccinium myrtillus", "year": 2049, "value": 1.0}
    ],
    "index": [
      {"year": 1940, "value": 0.921}, {"year": 1941, "value": 0.919}, {"year": 1942, "value": 0.917}, {"year": 1943, "value": 0.915},
      {"year": 1944, "value": 0.913}, {"year": 1945, "value": 0.911}, {"year": 1946, "value": 0.909}, {"year": 1947, "value": 0.907},
      {"year": 1948, "value": 0.906}, {"year": 1949, "value": 0.905}, {"year": 1950, "value": 0.904}, {"year": 1951, "value": 0.902},
      {"year": 1952, "value": 0.901}, {"year": 1953, "value": 0.9}, {"year": 1954, "value": 0.899}, {"year": 1955, "value": 0.898},
      {"year": 1956, "value": 0.897}, {"year": 1957, "value": 0.896}, {"year": 1958, "value": 0.895}, {"year": 1959, "value": 0.894},
      {"year": 1960, "value": 0.893}, {"year": 1961, "value": 0.892}, {"year": 1962, "value": 0.891}, {"year": 1963, "value": 0.89},
      {"year": 1964, "value": 0.889}, {"year": 1965, "value": 0.888}, {"year": 1966, "value": 0.887}, {"year": 1967, "value": 0.886},
      {"year": 1968, "value": 0.885}, {"year": 1969, "value": 0.884}, {"year": 1970, "value": 0.883}, {"year": 1971, "value": 0.882},
      {"year": 1972, "value": 0.881}, {"year": 1973, "value": 0.88}, {"year": 1974, "value": 0.879}, {"year": 1975, "value": 0.879},
      {"year": 1976, "value": 0.878}, {"year": 1977, "value": 0.878}, {"year": 1978, "value": 0.877}, {"year": 1979, "value": 0.877},
      {"year": 1980, "value": 0.877}, {"year": 1981, "value": 0.877}, {"year": 1982, "value": 0.878}, {"year": 1983, "value": 0.878},
      {"year": 1984, "value": 0.879}, {"year": 1985, "value": 0.879}, {"year": 1986, "value": 0.88}, {"year": 1987, "value": 0.881},
      {"year": 1988, "value": 0.882}, {"year": 1989, "value": 0.883}, {"year": 1990, "value": 0.884}, {"year": 1991, "value": 0.886},
      {"year": 1992, "value": 0.882}, {"year": 1993, "value": 0.888}, {"year": 1994, "value": 0.92}, {"year": 1995, "value": 0.905},
      {"year": 1996, "value": 0.88}, {"year": 1997, "value": 0.892}, {"year": 1998, "value": 0.905}, {"year": 1999, "value": 0.91},
      {"year": 2000, "value": 0.908}, {"year": 2001, "value": 0.925}, {"year": 2002, "value": 0.915}, {"year": 2003, "value": 0.875},
      {"year": 2004, "value": 0.9}, {"year": 2005, "value": 0.921}, {"year": 2006, "value": 0.912}, {"year": 2007, "value": 0.9},
      {"year": 2008, "value": 0.89}, {"year": 2009, "value": 0.882}, {"year": 2010, "value": 0.875}, {"year": 2011, "value": 0.872},
      {"year": 2012, "value": 0.874}, {"year": 2013, "value": 0.88}, {"year": 2014, "value": 0.888}, {"year": 2015, "value": 0.895},
      {"year": 2016, "value": 0.9}, {"year": 2017, "value": 0.905}, {"year": 2018, "value": 0.91}, {"year": 2019, "value": 0.912},
      {"year": 2020, "value": 0.913}, {"year": 2021, "value": 0.913}, {"year": 2022, "value": 0.912}, {"year": 2023, "value": 0.912},
      {"year": 2024, "value": 0.911}, {"year": 2025, "value": 0.911}, {"year": 2026, "value": 0.91}, {"year": 2027, "value": 0.91},
      {"year": 2028, "value": 0.909}, {"year": 2029, "value": 0.909}, {"year": 2030, "value": 0.908}, {"year": 2031, "value": 0.908},
      {"year": 2032, "value": 0.907}, {"year": 2033, "value": 0.907}, {"year": 2034, "value": 0.906}, {"year": 2035, "value": 0.906},
      {"year": 2036, "value": 0.905}, {"year": 2037, "value": 0.905}, {"year": 2038, "value": 0.904}, {"year": 2039, "value": 0.904},
      {"year": 2040, "value": 0.903}, {"year": 2041, "value": 0.903}, {"year": 2042, "value": 0.902}, {"year": 2043, "value": 0.902},
      {"year": 2044, "value": 0.901}, {"year": 2045, "value": 0.901}, {"year": 2046, "value": 0.9}, {"year": 2047, "value": 0.9},
      {"year": 2048, "value": 0.899}, {"year": 2049, "value": 0.899}
    ]
  },
  "layer": [
    {
      "data": {"name": "species"},
      "mark": {"type": "line", "interpolate": "monotone", "strokeWidth": 3.5, "strokeCap": "round", "strokeJoin": "round"},
      "encoding": {
        "x": {
          "field": "year", "type": "quantitative",
          "scale": {"domain": [1940, 2049], "nice": false, "zero": false},
          "axis": {"values": [1940, 1960, 1980, 2000, 2020, 2040], "format": "d", "grid": false, "tickSize": 7, "labelPadding": 2, "domain": true}
        },
        "y": {
          "field": "value", "type": "quantitative",
          "scale": {"domain": [0, 1], "nice": false},
          "axis": {"values": [0, 0.2, 0.4, 0.6, 0.8, 1.0], "labelExpr": "replace(format(datum.value, '.1f'), '.', ',')", "grid": true, "gridColor": "#8c8c8c", "gridWidth": 1, "tickSize": 8, "labelPadding": 12}
        },
        "color": {
          "field": "species", "type": "nominal",
          "scale": {
            "domain": ["Abies alba", "Athyrium filix-femina", "Avenella flexuosa", "Calamagrostis villosa", "Carex pilulifera", "Corylus avellana", "Dicranella heteromalla", "Dicranum scoparium", "Dryopteris dilatata", "Dryopteris filix-mas", "Fagus sylvatica", "Gymnocarpium dryopteris", "Leucobryum glaucum", "Luzula luzuloides", "Lycopodium annotinum", "Maianthemum bifolium", "Mnium hornum", "Oxalis acetosella", "Picea abies", "Pohlia nutans", "Polytrichum formosum", "Prenanthes purpurea", "Rhamnus frangula", "Sambucus racemosa", "Senecio ovatus", "Sorbus aucuparia", "Sphagnum quinquefarium", "Vaccinium myrtillus", "Sørensen index"],
            "range": ["#3A6196", "#953735", "#6E8C38", "#5B4580", "#2F8A9C", "#BF6A26", "#3F6FB6", "#B83D3B", "#86A84A", "#6A4F98", "#2EA0B8", "#E07A26", "#4C7FC8", "#C54B48", "#92BC4F", "#8063AD", "#3DB3D0", "#EE8D3A", "#8DA7D6", "#D39190", "#B6CF8E", "#A896CC", "#8ECBDD", "#F7B98C", "#B7C6E2", "#E5B8B7", "#D0DFBC", "#C6BED6", "#000000"]
          }
        }
      }
    },
    {
      "data": {"name": "index"},
      "mark": {"type": "line", "interpolate": "monotone", "strokeWidth": 3.5, "strokeCap": "round", "strokeJoin": "round"},
      "encoding": {
        "x": {"field": "year", "type": "quantitative"},
        "y": {"field": "value", "type": "quantitative"},
        "color": {"datum": "Sørensen index"}
      }
    },
    {
      "data": {"name": "index"},
      "mark": {"type": "point", "shape": "M-1,-1L1,1M-1,1L1,-1", "filled": false, "stroke": "#2a2a2a", "strokeWidth": 1.2, "size": 81, "opacity": 1},
      "encoding": {
        "x": {"field": "year", "type": "quantitative"},
        "y": {"field": "value", "type": "quantitative"}
      }
    }
  ]
}
